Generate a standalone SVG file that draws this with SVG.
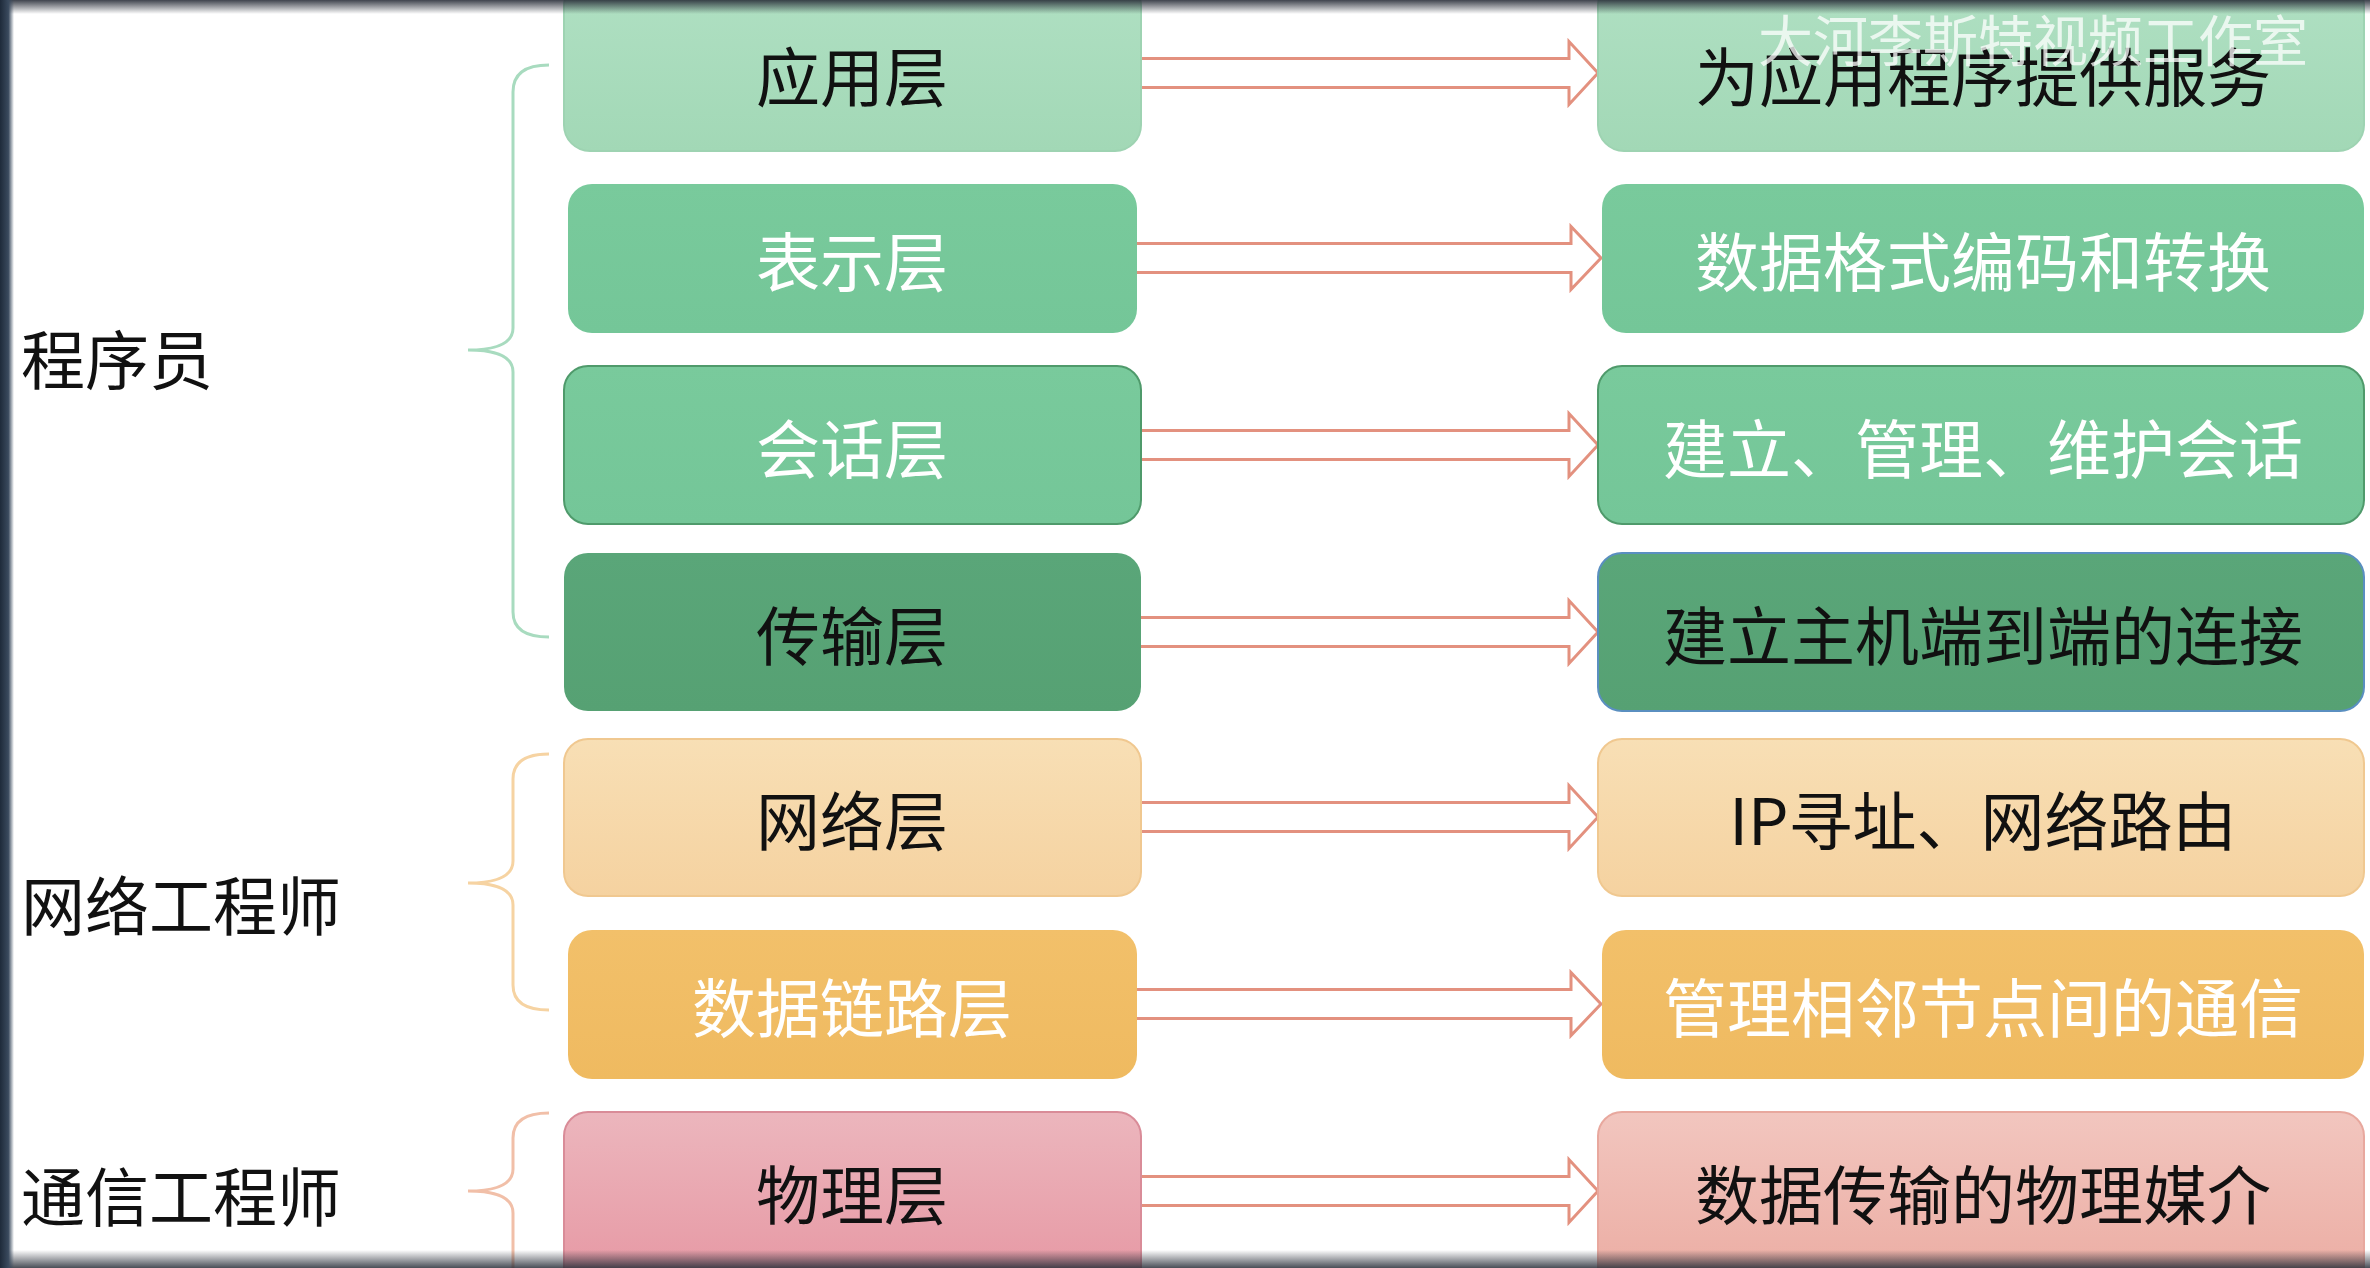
<svg xmlns="http://www.w3.org/2000/svg" width="2370" height="1268" viewBox="0 0 2370 1268">
<defs>
<linearGradient id="g1" x1="0" y1="0" x2="0" y2="1"><stop offset="0" stop-color="#b0e0c3"/><stop offset="1" stop-color="#a2d8b6"/></linearGradient>
<linearGradient id="g2" x1="0" y1="0" x2="0" y2="1"><stop offset="0" stop-color="#79ca9c"/><stop offset="1" stop-color="#74c698"/></linearGradient>
<linearGradient id="g4" x1="0" y1="0" x2="0" y2="1"><stop offset="0" stop-color="#5aa679"/><stop offset="1" stop-color="#56a173"/></linearGradient>
<linearGradient id="g5" x1="0" y1="0" x2="0" y2="1"><stop offset="0" stop-color="#f8dfb5"/><stop offset="1" stop-color="#f5d2a0"/></linearGradient>
<linearGradient id="g6" x1="0" y1="0" x2="0" y2="1"><stop offset="0" stop-color="#f2c06a"/><stop offset="1" stop-color="#efba60"/></linearGradient>
<linearGradient id="g7" x1="0" y1="0" x2="0" y2="1"><stop offset="0" stop-color="#ecb6bd"/><stop offset="1" stop-color="#e696a2"/></linearGradient>
<linearGradient id="g7r" x1="0" y1="0" x2="0" y2="1"><stop offset="0" stop-color="#f2c6bf"/><stop offset="1" stop-color="#ebaba1"/></linearGradient>
<linearGradient id="topband" x1="0" y1="0" x2="0" y2="1"><stop offset="0" stop-color="#2a2f3a" stop-opacity="0.9"/><stop offset="1" stop-color="#2a2f3a" stop-opacity="0"/></linearGradient>
<linearGradient id="botband" x1="0" y1="1" x2="0" y2="0"><stop offset="0" stop-color="#2a2f3a" stop-opacity="0.85"/><stop offset="1" stop-color="#2a2f3a" stop-opacity="0"/></linearGradient>
<linearGradient id="leftband" x1="0" y1="0" x2="1" y2="0"><stop offset="0" stop-color="#1e2a3a"/><stop offset="0.6" stop-color="#3a4a5e"/><stop offset="1" stop-color="#3a4a5e" stop-opacity="0"/></linearGradient>
</defs>
<style>
text{font-family:"Noto Sans CJK SC","Noto Sans",sans-serif;font-size:64px;text-anchor:middle;dominant-baseline:central}
.side{text-anchor:start}
.dk{fill:#111}
.wt{fill:#ffffff}
.arrow{fill:#ffffff;stroke:#e3917f;stroke-width:3}
.br{fill:none;stroke-width:3}
</style>
<rect width="2370" height="1268" fill="#ffffff"/>

<g id="connectors">
<path class="br" stroke="#a8dbbf" d="M549,65 Q513,65 513,92 V328 Q513,350 468,350 Q513,350 513,372 V612 Q513,637 549,637"/>
<path class="br" stroke="#f6d3a2" d="M549,754 Q513,754 513,779 V861 Q513,883 468,883 Q513,883 513,905 V985 Q513,1010 549,1010"/>
<path class="br" stroke="#f1bfa8" d="M549,1113 Q513,1113 513,1138 V1169 Q513,1191 468,1191 Q513,1191 513,1213 V1290"/>
<path class="arrow" d="M1141,58.5 H1569 V41.5 L1598,73 L1569,104.5 V87.5 H1141"/>
<path class="arrow" d="M1137,243.5 H1571 V226.5 L1601,258 L1571,289.5 V272.5 H1137"/>
<path class="arrow" d="M1141,430.5 H1569 V413.5 L1598,445 L1569,476.5 V459.5 H1141"/>
<path class="arrow" d="M1141,617.5 H1569 V600.5 L1598,632 L1569,663.5 V646.5 H1141"/>
<path class="arrow" d="M1141,802.5 H1569 V785.5 L1598,817 L1569,848.5 V831.5 H1141"/>
<path class="arrow" d="M1137,989.5 H1571 V972.5 L1601,1004 L1571,1035.5 V1018.5 H1137"/>
<path class="arrow" d="M1141,1176.5 H1569 V1159.5 L1598,1191 L1569,1222.5 V1205.5 H1141"/>
</g>

<g id="role-programmer"><text class="side dk" x="21" y="356">程序员</text></g>
<g id="role-network"><text class="side dk" x="21" y="902">网络工程师</text></g>
<g id="role-comm"><text class="side dk" x="21" y="1193">通信工程师</text></g>

<g id="L1"><rect x="564" y="-20" width="577" height="171" rx="26" fill="url(#g1)" stroke="#9ed3b2" stroke-width="2"/><text class="dk" x="852" y="73">应用层</text></g>
<g id="L2"><rect x="568" y="184" width="569" height="149" rx="24" fill="url(#g2)"/><text class="wt" x="852" y="258">表示层</text></g>
<g id="L3"><rect x="564" y="366" width="577" height="158" rx="24" fill="url(#g2)" stroke="#4f9a6b" stroke-width="2"/><text class="wt" x="852" y="445">会话层</text></g>
<g id="L4"><rect x="564" y="553" width="577" height="158" rx="24" fill="url(#g4)"/><text class="dk" x="852" y="632">传输层</text></g>
<g id="L5"><rect x="564" y="739" width="577" height="157" rx="24" fill="url(#g5)" stroke="#f0c890" stroke-width="2"/><text class="dk" x="852" y="817">网络层</text></g>
<g id="L6"><rect x="568" y="930" width="569" height="149" rx="24" fill="url(#g6)"/><text class="wt" x="852" y="1004">数据链路层</text></g>
<g id="L7"><rect x="564" y="1112" width="577" height="180" rx="24" fill="url(#g7)" stroke="#d98c98" stroke-width="2"/><text class="dk" x="852" y="1191">物理层</text></g>

<g id="R1"><rect x="1598" y="-20" width="766" height="171" rx="26" fill="url(#g1)" stroke="#9ed3b2" stroke-width="2"/><text class="dk" x="1983" y="73">为应用程序提供服务</text></g>
<g id="R2"><rect x="1602" y="184" width="762" height="149" rx="24" fill="url(#g2)"/><text class="wt" x="1983" y="258">数据格式编码和转换</text></g>
<g id="R3"><rect x="1598" y="366" width="766" height="158" rx="24" fill="url(#g2)" stroke="#4f9a6b" stroke-width="2"/><text class="wt" x="1983" y="445">建立、管理、维护会话</text></g>
<g id="R4"><rect x="1598" y="553" width="766" height="158" rx="24" fill="url(#g4)" stroke="#5a8fc0" stroke-width="2"/><text class="dk" x="1983" y="632">建立主机端到端的连接</text></g>
<g id="R5"><rect x="1598" y="739" width="766" height="157" rx="24" fill="url(#g5)" stroke="#f0c890" stroke-width="2"/><text class="dk" x="1983" y="817">IP寻址、网络路由</text></g>
<g id="R6"><rect x="1602" y="930" width="762" height="149" rx="24" fill="url(#g6)"/><text class="wt" x="1983" y="1004">管理相邻节点间的通信</text></g>
<g id="R7"><rect x="1598" y="1112" width="766" height="180" rx="24" fill="url(#g7r)" stroke="#e8a89e" stroke-width="2"/><text class="dk" x="1983" y="1191">数据传输的物理媒介</text></g>

<rect x="0" y="0" width="2370" height="14" fill="url(#topband)"/>
<rect x="0" y="1250" width="2370" height="18" fill="url(#botband)"/>
<rect x="0" y="0" width="14" height="1268" fill="url(#leftband)"/>
<text x="2033" y="37" style="font-size:55px;fill:#ffffff;fill-opacity:0.75">大河李斯特视频工作室</text>
</svg>
